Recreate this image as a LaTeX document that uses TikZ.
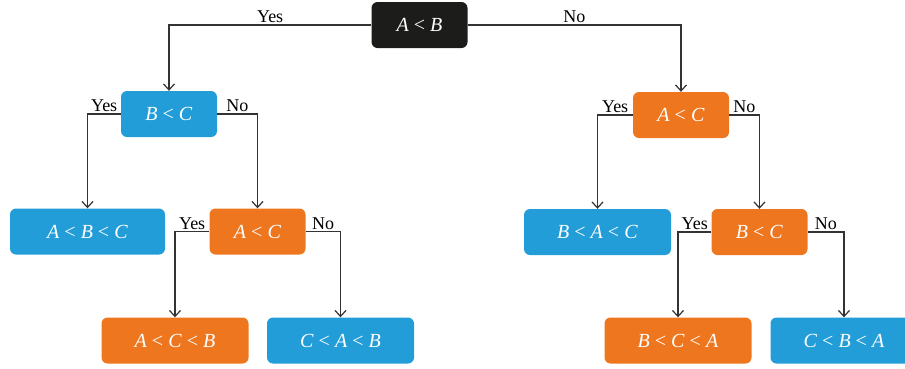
\documentclass[tikz,border=0pt]{standalone}
\usepackage{fontspec}
\setmainfont{Liberation Serif}
\usetikzlibrary{arrows.meta}
\definecolor{cblue}{HTML}{229DD8}
\definecolor{corange}{HTML}{EE761F}
\definecolor{cblack}{HTML}{1C1C1A}
\definecolor{cline}{HTML}{333333}
\newcommand{\vA}{\textit{A}}
\newcommand{\vB}{\textit{B}}
\newcommand{\vC}{\textit{C}}
\newcommand{\rl}{\ <\ }
\tikzset{
  box/.style={rounded corners=6pt, text=white, inner sep=0pt,
    minimum height=46pt, font=\fontsize{20}{22}\selectfont},
  small/.style={box, minimum width=96pt},
  big/.style={box, minimum width=147pt},
  bl/.style={fill=cblue},
  og/.style={fill=corange},
  bk/.style={fill=cblack},
  arr/.style={draw=cline, line width=1.2pt, -{Straight Barb[length=6pt,width=11pt]}},
  lbl/.style={above, inner sep=1.5pt, text=black, font=\fontsize{18}{20}\selectfont}
}
\begin{document}
\begin{tikzpicture}[x=1pt,y=-1pt]
\useasboundingbox (0,0) rectangle (905,368);
\node[small,bk] (root) at (419.5,25) {\vA\rl\vB};
\node[small,bl] (bc1) at (169,114) {\vB\rl\vC};
\node[small,og] (ac2) at (681,115) {\vA\rl\vC};
\node[big,bl,minimum width=155pt] (abc) at (87.5,231.5) {\vA\rl\vB\rl\vC};
\node[small,og] (ac1) at (257.5,231.5) {\vA\rl\vC};
\node[big,og] (acb) at (175,340.5) {\vA\rl\vC\rl\vB};
\node[big,bl] (cab) at (340.5,340.5) {\vC\rl\vA\rl\vB};
\node[big,bl] (bac) at (597.5,232) {\vB\rl\vA\rl\vC};
\node[small,og] (bc2) at (759.5,232) {\vB\rl\vC};
\node[big,og] (bca) at (678,340.5) {\vB\rl\vC\rl\vA};
\node[big,bl] (cba) at (844,340.5) {\vC\rl\vB\rl\vA};
\draw[arr] (root.west) -| node[lbl,pos=0.25]{Yes} (bc1.north);
\draw[arr] (root.east) -| node[lbl,pos=0.25]{No} (ac2.north);
\draw[arr] (bc1.west) -| node[lbl,pos=0.25]{Yes} (abc.north);
\draw[arr] (bc1.east) -| node[lbl,pos=0.25]{No} (ac1.north);
\draw[arr] (ac1.west) -| node[lbl,pos=0.25]{Yes} (acb.north);
\draw[arr] (ac1.east) -| node[lbl,pos=0.25]{No} (cab.north);
\draw[arr] (ac2.west) -| node[lbl,pos=0.25]{Yes} (bac.north);
\draw[arr] (ac2.east) -| node[lbl,pos=0.25]{No} (bc2.north);
\draw[arr] (bc2.west) -| node[lbl,pos=0.25]{Yes} (bca.north);
\draw[arr] (bc2.east) -| node[lbl,pos=0.25]{No} (cba.north);
\end{tikzpicture}
\end{document}
